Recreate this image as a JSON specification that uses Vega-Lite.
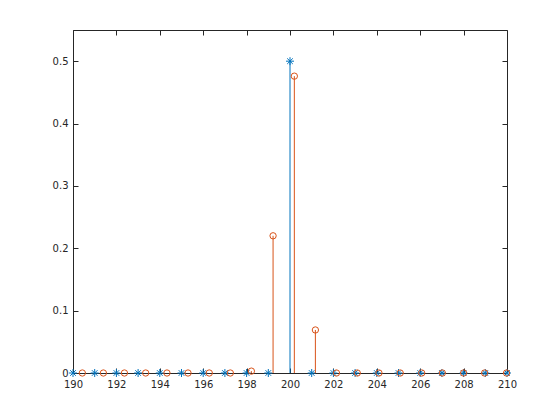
{
  "$schema": "https://vega.github.io/schema/vega-lite/v6.json",
  "width": 434,
  "height": 343,
  "autosize": {"type": "none"},
  "padding": {"left": 73, "top": 30, "right": 53, "bottom": 47},
  "background": "white",
  "config": {
    "view": {"stroke": "#262626", "strokeWidth": 1},
    "axis": {"grid": false, "domainColor": "#262626", "tickColor": "#262626", "labelColor": "#262626", "labelFont": "DejaVu Sans", "labelFontSize": 10, "tickSize": -5, "domainWidth": 1, "tickWidth": 1}
  },
  "datasets": {
    "pts": [
      {"s": "a", "x": 190, "y": 0}, {"s": "a", "x": 191, "y": 0}, {"s": "a", "x": 192, "y": 0},
      {"s": "a", "x": 193, "y": 0}, {"s": "a", "x": 194, "y": 0}, {"s": "a", "x": 195, "y": 0},
      {"s": "a", "x": 196, "y": 0}, {"s": "a", "x": 197, "y": 0}, {"s": "a", "x": 198, "y": 0},
      {"s": "a", "x": 199, "y": 0}, {"s": "a", "x": 200, "y": 0.5}, {"s": "a", "x": 201, "y": 0},
      {"s": "a", "x": 202, "y": 0}, {"s": "a", "x": 203, "y": 0}, {"s": "a", "x": 204, "y": 0},
      {"s": "a", "x": 205, "y": 0}, {"s": "a", "x": 206, "y": 0}, {"s": "a", "x": 207, "y": 0},
      {"s": "a", "x": 208, "y": 0}, {"s": "a", "x": 209, "y": 0}, {"s": "a", "x": 210, "y": 0},
      {"s": "b", "x": 190.43, "y": 0}, {"s": "b", "x": 191.40, "y": 0}, {"s": "b", "x": 192.37, "y": 0},
      {"s": "b", "x": 193.35, "y": 0}, {"s": "b", "x": 194.33, "y": 0}, {"s": "b", "x": 195.30, "y": 0},
      {"s": "b", "x": 196.28, "y": 0}, {"s": "b", "x": 197.25, "y": 0}, {"s": "b", "x": 198.22, "y": 0.003},
      {"s": "b", "x": 199.22, "y": 0.22}, {"s": "b", "x": 200.20, "y": 0.476}, {"s": "b", "x": 201.17, "y": 0.069},
      {"s": "b", "x": 202.14, "y": 0}, {"s": "b", "x": 203.10, "y": 0}, {"s": "b", "x": 204.10, "y": 0},
      {"s": "b", "x": 205.08, "y": 0}, {"s": "b", "x": 206.07, "y": 0}, {"s": "b", "x": 207.02, "y": 0},
      {"s": "b", "x": 208.00, "y": 0}, {"s": "b", "x": 208.97, "y": 0}, {"s": "b", "x": 209.98, "y": 0}
    ]
  },
  "data": {"name": "pts"},
  "resolve": {"axis": {"x": "independent", "y": "independent"}},
  "layer": [
    {
      "transform": [{"filter": "datum.s === 'a'"}],
      "mark": {"type": "rule", "strokeWidth": 1, "color": "#0072BD"},
      "encoding": {
        "x": {"field": "x", "type": "quantitative", "scale": {"domain": [190, 210], "nice": false, "zero": false},
              "axis": {"orient": "bottom", "values": [190,192,194,196,198,200,202,204,206,208,210], "title": null, "labelPadding": 11, "labelFlush": false}},
        "y": {"field": "y", "type": "quantitative", "scale": {"domain": [0, 0.55], "nice": false},
              "axis": {"orient": "left", "values": [0,0.1,0.2,0.3,0.4,0.5], "title": null, "labelPadding": 10, "format": "~g"}},
        "y2": {"datum": 0}
      }
    },
    {
      "transform": [{"filter": "datum.s === 'a'"}],
      "mark": {"type": "point", "filled": false, "strokeWidth": 1, "color": "#0072BD", "size": 64, "opacity": 1,
               "shape": "M-1,0L1,0M0,-1L0,1M-0.7,-0.7L0.7,0.7M-0.7,0.7L0.7,-0.7"},
      "encoding": {
        "x": {"field": "x", "type": "quantitative",
              "axis": {"orient": "top", "values": [190,192,194,196,198,200,202,204,206,208,210], "title": null, "labels": false, "domain": false}},
        "y": {"field": "y", "type": "quantitative",
              "axis": {"orient": "right", "values": [0,0.1,0.2,0.3,0.4,0.5], "title": null, "labels": false, "domain": false}}
      }
    },
    {
      "transform": [{"filter": "datum.s === 'b'"}],
      "mark": {"type": "rule", "strokeWidth": 1, "color": "#D95319"},
      "encoding": {
        "x": {"field": "x", "type": "quantitative", "axis": null},
        "y": {"field": "y", "type": "quantitative", "axis": null},
        "y2": {"datum": 0}
      }
    },
    {
      "transform": [{"filter": "datum.s === 'b'"}],
      "mark": {"type": "point", "shape": "circle", "filled": false, "strokeWidth": 1, "color": "#D95319", "size": 40, "opacity": 1},
      "encoding": {
        "x": {"field": "x", "type": "quantitative", "axis": null},
        "y": {"field": "y", "type": "quantitative", "axis": null}
      }
    }
  ]
}
